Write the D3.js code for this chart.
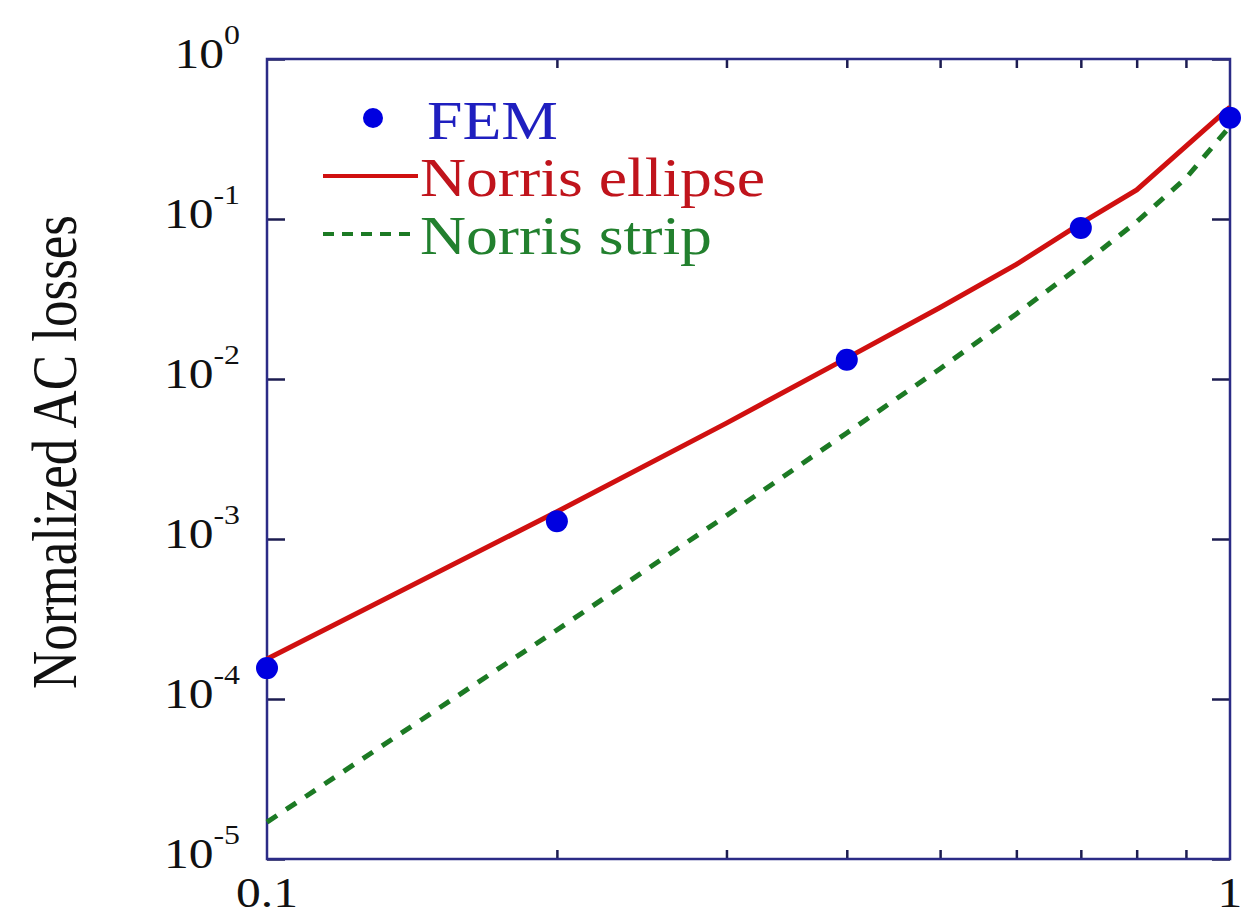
<html>
<head>
  <script src="https://d3js.org/d3.v7.min.js"></script>
  <style>
    body { margin: 0; background: #fff; }
    text { font-family: "Liberation Serif", "Times New Roman", serif; }
    .tick line { stroke: #1c1c50; stroke-width: 2.5; }
  </style>
</head>
<body>
  <svg id="chart" width="1242" height="916"></svg>
  <script>
    // values
    const femX = [0.1, 0.2, 0.4, 0.7, 1.0];
    const femY = [1.56e-4, 1.29e-3, 1.32e-2, 8.8e-2, 0.43];

    const ellipseX = [0.1, 0.2, 0.3, 0.4, 0.5, 0.6, 0.7, 0.8, 1.0];
    const ellipseY = [1.78e-4, 1.48e-3, 5.3e-3, 1.35e-2, 2.8e-2, 5.2e-2, 9.4e-2, 0.152, 0.5];

    const stripX = [0.1, 0.2, 0.3, 0.4, 0.5, 0.6, 0.7, 0.8, 0.9, 1.0];
    const stripY = [1.7e-5, 2.7e-4, 1.4e-3, 4.6e-3, 1.16e-2, 2.55e-2, 5.1e-2, 9.6e-2, 0.18, 0.38];

    const yTicks = [1e-5, 1e-4, 1e-3, 1e-2, 1e-1, 1];
    const yExp = ["-5", "-4", "-3", "-2", "-1", "0"];
    const xMinor = [0.2, 0.3, 0.4, 0.5, 0.6, 0.7, 0.8, 0.9];
    const xLabels = [0.1, 1];

    const svg = d3.select("#chart");
    const m = { left: 267, right: 1230, top: 59, bottom: 859 };
    const sx = 1.18; // picture is stretched sideways

    const x = d3.scaleLog([0.1, 1], [m.left, m.right]);
    const y = d3.scaleLog([1e-5, 1], [m.bottom, m.top]);
    const axisColor = "#2b2b86";

    // ticks
    svg.append("g").attr("transform", `translate(0,${m.bottom})`)
      .call(d3.axisBottom(x).tickValues(xMinor).tickSize(-9).tickFormat(""));
    svg.append("g").attr("transform", `translate(0,${m.top})`)
      .call(d3.axisTop(x).tickValues(xMinor).tickSize(-9).tickFormat(""));
    svg.append("g").attr("transform", `translate(${m.left},0)`)
      .call(d3.axisLeft(y).tickValues(yTicks).tickSize(-18).tickFormat(""));
    svg.append("g").attr("transform", `translate(${m.right},0)`)
      .call(d3.axisRight(y).tickValues(yTicks).tickSize(-18).tickFormat(""));
    svg.selectAll(".domain").remove();

    svg.append("rect")
      .attr("x", m.left).attr("y", m.top)
      .attr("width", m.right - m.left).attr("height", m.bottom - m.top)
      .attr("fill", "none").attr("stroke", axisColor).attr("stroke-width", 2.5);

    // y tick labels
    yTicks.forEach((t, i) => {
      let lbl = svg.append("text")
        .attr("transform", `translate(240,${y(t) + 8.5}) scale(${sx},1)`)
        .attr("text-anchor", "end")
        .attr("font-size", 42)
        .attr("fill", "#111");
      lbl.append("tspan").text("10");
      lbl.append("tspan").text(yExp[i]).attr("font-size", 27).attr("dy", -24);
    });

    // x tick labels
    xLabels.forEach(t => {
      svg.append("text")
        .attr("transform", `translate(${x(t)},907) scale(${sx},1)`)
        .attr("text-anchor", "middle")
        .attr("font-size", 42)
        .attr("fill", "#111")
        .text(t);
    });

    // axis title
    svg.append("text")
      .attr("transform", `translate(76,452) scale(${sx},1) rotate(-90)`)
      .attr("text-anchor", "middle")
      .attr("font-size", 53)
      .attr("fill", "#111")
      .text("Normalized AC losses");

    // lines
    let line = d3.line().x(d => x(d[0])).y(d => y(d[1]));

    svg.append("path")
      .datum(stripX.map((v, i) => [v, stripY[i]]))
      .attr("d", line)
      .attr("fill", "none")
      .attr("stroke", "#1c7a24")
      .attr("stroke-width", 5)
      .attr("stroke-dasharray", "12 11");

    svg.append("path")
      .datum(ellipseX.map((v, i) => [v, ellipseY[i]]))
      .attr("d", line)
      .attr("fill", "none")
      .attr("stroke", "#d01010")
      .attr("stroke-width", 5);

    svg.selectAll("circle.fem").data(femX)
      .join("circle")
      .attr("class", "fem")
      .attr("cx", d => x(d))
      .attr("cy", (d, i) => y(femY[i]))
      .attr("r", 11)
      .attr("fill", "#0000e0");

    // legend
    let legend = svg.append("g");
    legend.append("circle").attr("cx", 373).attr("cy", 118).attr("r", 10).attr("fill", "#0000e0");
    legend.append("line").attr("x1", 323).attr("x2", 418).attr("y1", 176).attr("y2", 176)
      .attr("stroke", "#d01010").attr("stroke-width", 4);
    legend.append("line").attr("x1", 323).attr("x2", 418).attr("y1", 234).attr("y2", 234)
      .attr("stroke", "#1c7a24").attr("stroke-width", 4).attr("stroke-dasharray", "11 8");

    let entries = [
      { label: "FEM", color: "#1f1fbf", x: 427, y: 139 },
      { label: "Norris ellipse", color: "#c0141c", x: 420, y: 196 },
      { label: "Norris strip", color: "#22802e", x: 420, y: 254 }
    ];
    entries.forEach(e => {
      legend.append("text")
        .attr("transform", `translate(${e.x},${e.y}) scale(${sx},1)`)
        .attr("font-size", 54)
        .attr("fill", e.color)
        .text(e.label);
    });
  </script>
</body>
</html>
